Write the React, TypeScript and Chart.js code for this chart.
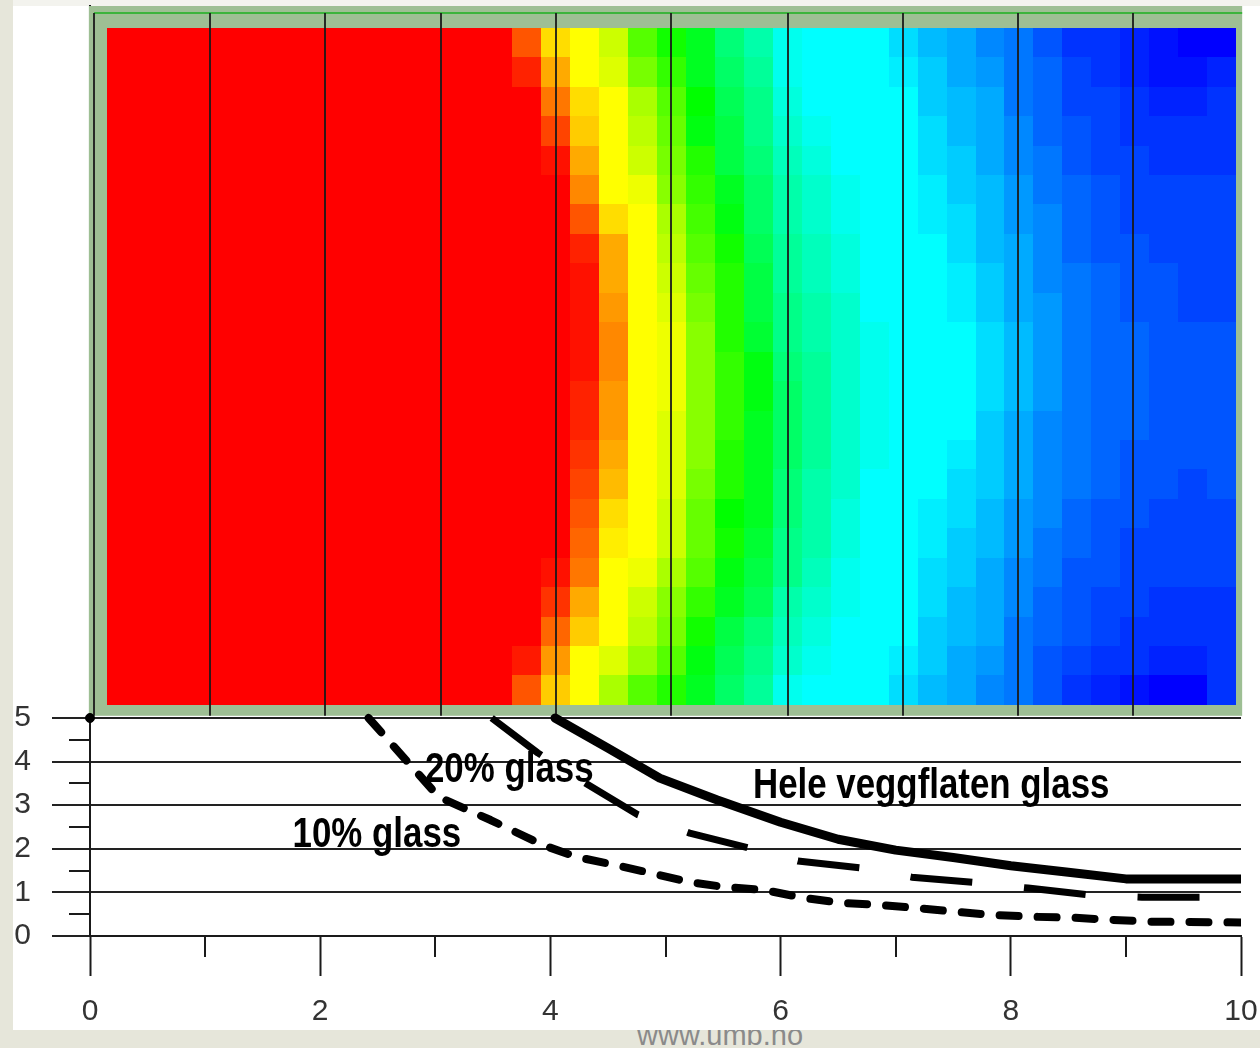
import React, { useEffect, useRef } from "react";
import { Chart, registerables } from "chart.js";

Chart.register(...registerables);

const FONT = '"Liberation Sans", Arial, Helvetica, sans-serif';

// ---- axis ticks ----
const X_LABELS = [0, 2, 4, 6, 8, 10];
const X_MINOR_TICKS = [1, 3, 5, 7, 9];
const Y_LABELS = [0, 1, 2, 3, 4, 5];
const Y_MINOR_TICKS = [0.5, 1.5, 2.5, 3.5, 4.5];
const Y_MAX = 21.33;

// ---- curves ----
const HELE_X = [4.04, 4.5, 4.95, 5.45, 6.0, 6.5, 7.0, 7.5, 8.0, 8.5, 9.0, 10.0];
const HELE_Y = [5.0, 4.31, 3.62, 3.12, 2.61, 2.22, 1.97, 1.8, 1.61, 1.46, 1.31, 1.31];

const GLASS20_X = [3.49, 3.89, 4.3, 4.76, 5.21, 5.72, 6.15, 6.71, 7.14, 7.71, 8.15, 8.69, 9.14, 9.7, 10.0];
const GLASS20_Y = [5.0, 4.2, 3.51, 2.78, 2.36, 2.02, 1.72, 1.56, 1.35, 1.22, 1.1, 0.94, 0.89, 0.89, 0.89];

const GLASS10_X = [2.42, 3.03, 3.48, 3.93, 4.23, 4.56, 4.88, 5.2, 5.52, 5.85, 6.21, 6.53, 6.86, 7.19, 7.54, 7.86, 8.21, 8.54, 8.88, 9.21, 9.54, 10.0];
const GLASS10_Y = [5.0, 3.19, 2.66, 2.09, 1.81, 1.63, 1.44, 1.24, 1.12, 1.06, 0.87, 0.76, 0.71, 0.64, 0.55, 0.48, 0.44, 0.42, 0.37, 0.33, 0.32, 0.31];

const ORIGIN_DOT = [{ x: 0, y: 5 }];

// ---- labels on the chart ----
const ANNOTATIONS = [
  { text: "20% glass", x: 2.91, y: 3.53 },
  { text: "10% glass", x: 1.76, y: 2.04 },
  { text: "Hele veggflaten glass", x: 5.76, y: 3.17 },
];

// ---- heat map (hue in degrees per cell, rows top -> bottom) ----
const HEAT_X = [0.148, 9.957];
const HEAT_Y = [5.3, 20.83];
const FRAME_X = [-0.01, 10.01];
const FRAME_Y = [5.05, 21.33];
const FRAME_TOP_LINE_Y = 21.17;
const HEAT_GRID_X = [0.035, 1.043, 2.042, 3.05, 4.05, 5.05, 6.06, 7.06, 8.06, 9.06];

const HEAT_HUE = [
  [0,0,0,0,0,0,0,0,0,0,0,0,0,0, 20,52,60,72,100,116,128,148,160,176,180,180,180,188,196,200,208,212,220,228,228,232,236,240,240],
  [0,0,0,0,0,0,0,0,0,0,0,0,0,0, 8,40,60,68,92,108,128,144,156,176,180,180,180,184,192,200,204,212,216,224,228,232,236,236,232],
  [0,0,0,0,0,0,0,0,0,0,0,0,0,0, 0,28,52,60,80,100,120,140,152,172,180,180,180,180,192,196,200,212,216,224,224,228,232,232,228],
  [0,0,0,0,0,0,0,0,0,0,0,0,0,0, 0,16,48,60,76,96,124,136,152,168,176,180,180,180,188,196,200,208,216,220,224,228,228,228,228],
  [0,0,0,0,0,0,0,0,0,0,0,0,0,0, 0,4,40,60,72,92,112,136,148,164,172,180,180,180,188,192,200,208,212,220,224,224,228,228,228],
  [0,0,0,0,0,0,0,0,0,0,0,0,0,0, 0,0,32,60,64,88,108,128,144,160,168,176,180,180,184,192,196,204,212,216,220,224,224,224,224],
  [0,0,0,0,0,0,0,0,0,0,0,0,0,0, 0,0,20,52,60,80,104,124,144,160,168,176,180,180,184,188,196,204,208,216,220,224,224,224,224],
  [0,0,0,0,0,0,0,0,0,0,0,0,0,0, 0,0,8,40,60,76,100,116,140,156,164,172,180,180,180,188,196,200,208,216,220,220,224,224,224],
  [0,0,0,0,0,0,0,0,0,0,0,0,0,0, 0,0,4,40,60,72,96,112,136,156,164,172,180,180,180,184,192,200,208,212,216,220,220,224,224],
  [0,0,0,0,0,0,0,0,0,0,0,0,0,0, 0,0,4,36,60,68,92,112,136,152,160,168,180,180,180,184,192,200,204,212,216,220,220,224,224],
  [0,0,0,0,0,0,0,0,0,0,0,0,0,0, 0,0,4,32,60,64,88,112,132,152,160,168,176,180,180,180,188,196,204,212,216,216,220,220,220],
  [0,0,0,0,0,0,0,0,0,0,0,0,0,0, 0,0,4,32,60,64,88,108,124,148,156,168,176,180,180,180,188,196,204,212,216,216,220,220,220],
  [0,0,0,0,0,0,0,0,0,0,0,0,0,0, 0,0,8,36,60,64,88,108,124,144,156,168,176,180,180,180,188,196,204,212,216,216,220,220,220],
  [0,0,0,0,0,0,0,0,0,0,0,0,0,0, 0,0,8,36,60,68,88,108,128,144,156,168,176,180,180,180,192,200,208,212,216,216,220,220,220],
  [0,0,0,0,0,0,0,0,0,0,0,0,0,0, 0,0,12,40,60,68,88,112,128,144,156,168,176,180,180,184,192,200,208,212,216,220,220,220,220],
  [0,0,0,0,0,0,0,0,0,0,0,0,0,0, 0,0,16,44,60,68,92,112,128,148,160,168,180,180,180,188,192,200,208,212,216,220,220,224,220],
  [0,0,0,0,0,0,0,0,0,0,0,0,0,0, 0,0,20,52,60,72,96,120,128,148,160,172,180,180,184,188,196,204,208,216,220,220,224,224,224],
  [0,0,0,0,0,0,0,0,0,0,0,0,0,0, 0,0,24,56,60,72,96,116,132,152,160,172,180,180,184,192,196,204,212,216,220,224,224,224,224],
  [0,0,0,0,0,0,0,0,0,0,0,0,0,0, 0,4,28,60,64,80,100,124,136,152,164,176,180,180,188,192,200,208,212,220,220,224,224,224,224],
  [0,0,0,0,0,0,0,0,0,0,0,0,0,0, 0,12,40,60,72,88,108,128,140,160,168,176,180,180,188,196,200,208,216,220,224,224,228,228,228],
  [0,0,0,0,0,0,0,0,0,0,0,0,0,0, 0,24,48,60,76,92,116,136,148,164,172,180,180,180,192,196,200,212,216,220,224,228,228,228,228],
  [0,0,0,0,0,0,0,0,0,0,0,0,0,0, 6,36,60,68,84,100,124,140,152,168,176,180,180,184,192,200,204,212,220,224,228,228,232,232,228],
  [0,0,0,0,0,0,0,0,0,0,0,0,0,0, 20,48,60,80,100,112,128,144,156,176,180,180,180,188,196,200,208,212,220,228,232,236,240,240,228],
];

const toPoints = (xs: number[], ys: number[]) => xs.map((x, i) => ({ x, y: ys[i] }));

const heatmapPlugin = {
  id: "heatmap",
  beforeDatasetsDraw(chart: any) {
    const { ctx, scales } = chart;
    const x = scales.x;
    const y = scales.y;
    ctx.save();
    const fx0 = x.getPixelForValue(FRAME_X[0]);
    const fx1 = x.getPixelForValue(FRAME_X[1]);
    const fy0 = y.getPixelForValue(FRAME_Y[1]);
    const fy1 = y.getPixelForValue(FRAME_Y[0]);
    ctx.fillStyle = "#9ebf94";
    ctx.fillRect(fx0, fy0, fx1 - fx0, fy1 - fy0);
    const nRows = HEAT_HUE.length;
    const nCols = HEAT_HUE[0].length;
    const cw = (HEAT_X[1] - HEAT_X[0]) / nCols;
    const rh = (HEAT_Y[1] - HEAT_Y[0]) / nRows;
    HEAT_HUE.forEach((row, r) => {
      row.forEach((h, c) => {
        const xa = Math.round(x.getPixelForValue(HEAT_X[0] + c * cw));
        const xb = Math.round(x.getPixelForValue(HEAT_X[0] + (c + 1) * cw));
        const ya = Math.round(y.getPixelForValue(HEAT_Y[1] - r * rh));
        const yb = Math.round(y.getPixelForValue(HEAT_Y[1] - (r + 1) * rh));
        ctx.fillStyle = `hsl(${h}, 100%, 50%)`;
        ctx.fillRect(xa, ya, xb - xa, yb - ya);
      });
    });
    const gy = y.getPixelForValue(FRAME_TOP_LINE_Y);
    ctx.strokeStyle = "#3cb43c";
    ctx.lineWidth = 2;
    ctx.beginPath();
    ctx.moveTo(x.getPixelForValue(HEAT_GRID_X[0]), gy);
    ctx.lineTo(fx1, gy);
    ctx.stroke();
    ctx.strokeStyle = "rgba(25,25,25,0.9)";
    ctx.lineWidth = 2;
    HEAT_GRID_X.forEach((v) => {
      const px = Math.round(x.getPixelForValue(v));
      ctx.beginPath();
      ctx.moveTo(px, gy);
      ctx.lineTo(px, fy1);
      ctx.stroke();
    });
    ctx.restore();
  },
};

const extrasPlugin = {
  id: "extras",
  afterDraw(chart: any) {
    const { ctx, scales, chartArea } = chart;
    const x = scales.x;
    const y = scales.y;
    ctx.save();
    ctx.strokeStyle = "#1a1a1a";
    ctx.lineWidth = 2;
    Y_MINOR_TICKS.forEach((v) => {
      const py = Math.round(y.getPixelForValue(v));
      ctx.beginPath();
      ctx.moveTo(chartArea.left - 21, py);
      ctx.lineTo(chartArea.left, py);
      ctx.stroke();
    });
    X_MINOR_TICKS.forEach((v) => {
      const px = Math.round(x.getPixelForValue(v));
      ctx.beginPath();
      ctx.moveTo(px, chartArea.bottom);
      ctx.lineTo(px, chartArea.bottom + 21);
      ctx.stroke();
    });
    ctx.fillStyle = "#000";
    ctx.font = `bold 42px ${FONT}`;
    ctx.textBaseline = "alphabetic";
    ctx.textAlign = "left";
    ANNOTATIONS.forEach((a) => {
      ctx.save();
      ctx.translate(x.getPixelForValue(a.x), y.getPixelForValue(a.y));
      ctx.scale(0.83, 1);
      ctx.fillText(a.text, 0, 0);
      ctx.restore();
    });
    ctx.restore();
  },
};

export default function App() {
  const canvasRef = useRef<HTMLCanvasElement | null>(null);

  useEffect(() => {
    if (!canvasRef.current) return;
    const chart = new Chart(canvasRef.current, {
      type: "line",
      data: {
        datasets: [
          {
            label: "Hele veggflaten glass",
            data: toPoints(HELE_X, HELE_Y),
            borderColor: "#000",
            borderWidth: 9,
            borderCapStyle: "round",
            borderJoinStyle: "round",
            pointRadius: 0,
            tension: 0,
            fill: false,
          },
          {
            label: "20% glass",
            data: toPoints(GLASS20_X, GLASS20_Y),
            borderColor: "#000",
            borderWidth: 7,
            borderDash: [62, 52],
            borderCapStyle: "butt",
            borderJoinStyle: "round",
            pointRadius: 0,
            tension: 0,
            fill: false,
          },
          {
            label: "10% glass",
            data: toPoints(GLASS10_X, GLASS10_Y),
            borderColor: "#000",
            borderWidth: 8,
            borderDash: [19, 19],
            borderCapStyle: "round",
            borderJoinStyle: "round",
            pointRadius: 0,
            tension: 0,
            fill: false,
          },
          {
            label: "origin",
            data: ORIGIN_DOT,
            showLine: false,
            clip: false,
            pointRadius: 4.5,
            pointBorderWidth: 1,
            pointBackgroundColor: "#000",
            pointBorderColor: "#000",
          },
        ],
      },
      options: {
        responsive: false,
        animation: false,
        events: [],
        layout: { padding: { left: 0, right: 19, top: 6, bottom: 0 } },
        plugins: { legend: { display: false }, tooltip: { enabled: false } },
        scales: {
          x: {
            type: "linear",
            min: 0,
            max: 10,
            afterBuildTicks: (s: any) => {
              s.ticks = X_LABELS.map((v) => ({ value: v }));
            },
            afterFit: (s: any) => {
              s.height = 112;
              s.paddingLeft = 0;
              s.paddingRight = 0;
              s.paddingTop = 0;
              s.paddingBottom = 0;
            },
            grid: {
              drawOnChartArea: false,
              drawTicks: true,
              tickLength: 40,
              tickWidth: 2,
              tickColor: "#1a1a1a",
            },
            border: { display: true, color: "#1a1a1a", width: 2 },
            ticks: {
              autoSkip: false,
              maxRotation: 0,
              padding: 18,
              color: "#333",
              font: { family: FONT, size: 30 },
            },
          },
          y: {
            type: "linear",
            min: 0,
            max: Y_MAX,
            afterBuildTicks: (s: any) => {
              s.ticks = Y_LABELS.map((v) => ({ value: v }));
            },
            afterFit: (s: any) => {
              s.width = 90;
              s.paddingLeft = 0;
              s.paddingRight = 0;
              s.paddingTop = 0;
              s.paddingBottom = 0;
            },
            grid: {
              drawOnChartArea: true,
              color: "#222",
              lineWidth: 2,
              drawTicks: true,
              tickLength: 38,
              tickWidth: 2,
              tickColor: "#222",
            },
            border: { display: true, color: "#1a1a1a", width: 2 },
            ticks: {
              autoSkip: false,
              padding: 21,
              color: "#333",
              font: { family: FONT, size: 30 },
            },
          },
        },
      },
      plugins: [heatmapPlugin, extrasPlugin],
    } as any);
    return () => chart.destroy();
  }, []);

  return (
    <div
      style={{
        position: "fixed",
        left: 0,
        top: 0,
        width: 1260,
        height: 1048,
        background: "#e6e6da",
        overflow: "hidden",
      }}
    >
      <div
        style={{
          position: "absolute",
          left: 637,
          top: 1017,
          font: `29px ${FONT}`,
          lineHeight: "36px",
          color: "#8a8a8a",
          whiteSpace: "nowrap",
        }}
      >
        www.umb.no
      </div>
      <div style={{ position: "absolute", left: 13, top: 6, width: 1247, height: 1024, background: "#ffffff" }} />
      <div style={{ position: "absolute", left: 13, top: 0, width: 1247, height: 6, background: "#f3f3ee" }} />
      <canvas ref={canvasRef} width={1260} height={1048} style={{ position: "absolute", left: 0, top: 0 }} />
    </div>
  );
}
